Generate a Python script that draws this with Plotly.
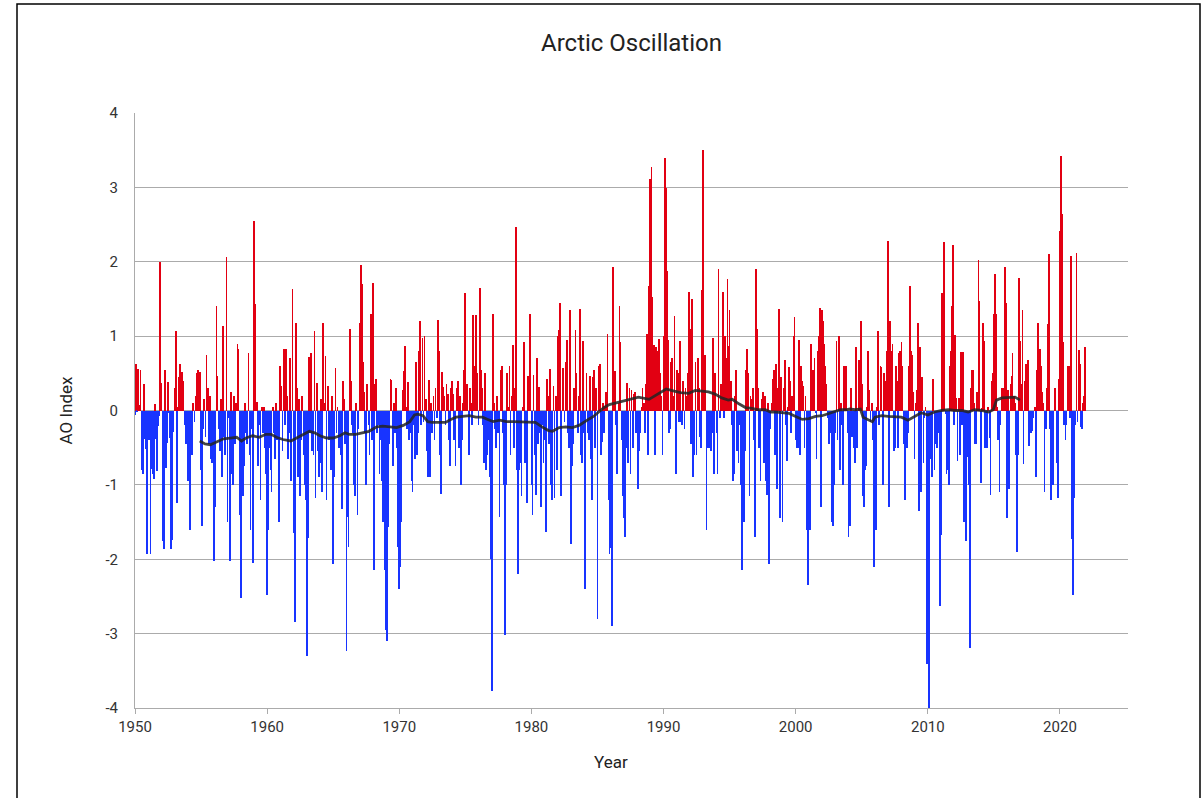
import plotly.graph_objects as go

# Monthly AO index values (Jan..Dec), one list per decade
ao_1950s = [
    -0.06, 0.63, -0.01, 0.56, 0.07, 0.54, -0.80, -0.85, 0.36, -0.38, -0.52, -1.93,
    -0.09, -0.40, -1.93, -0.78, -0.86, -0.92, 0.09, -0.38, -0.82, -0.21, -0.07, 1.99,
    0.37, -1.75, -1.86, 0.54, -0.77, -0.44, 0.38, -0.03, -0.37, -1.86, -1.74, -0.29,
    0.30, 1.07, -1.25, 0.05, 0.45, 0.62, 0.35, 0.52, 0.40, -0.20, -0.45, -0.30,
    -0.95, -0.20, -1.60, -0.40, -0.60, 0.10, -0.15, 0.20, 0.50, 0.55, 0.35, 0.52,
    -0.80, -1.55, -0.25, 0.15, -0.35, 0.75, 0.30, -0.45, 0.20, -0.65, -0.70, -0.50,
    -2.03, -1.30, 1.40, 0.47, -0.25, -0.55, 0.15, -0.90, 1.13, -0.35, -0.60, 2.06,
    -1.50, -0.10, -2.02, 0.25, -0.85, -1.00, 0.20, -0.45, 0.10, 0.90, 0.83, -1.40,
    -2.52, -0.40, -1.15, -0.75, 0.10, -0.30, -0.45, 0.77, -0.60, -1.60, -0.25, -2.05,
    2.55, 1.43, 0.10, 0.12, -0.75, -0.20, -1.20, 0.05, -0.30, 0.05, -0.50, -0.85,
]
ao_1960s = [
    -2.48, -1.60, -0.50, -0.80, -1.10, 0.05, -0.30, -0.65, 0.10, -0.40, -0.20, -1.50,
    0.60, 0.33, -0.55, 0.83, -0.20, 0.83, 0.20, -0.65, -0.30, 0.70, -0.95, 1.64,
    -1.65, -2.85, 1.17, 0.30, -0.90, 0.15, -1.15, -0.40, 0.20, -0.60, -1.00, -1.20,
    -3.30, -1.72, 0.72, -0.30, 0.77, -0.55, -0.60, 1.07, -1.17, 0.37, -0.55, -0.90,
    -0.70, 0.15, -1.10, 1.17, 0.10, 0.73, -1.20, 0.33, -0.40, -0.10, -0.80, 0.20,
    -2.07, -0.90, 0.57, -0.30, 0.05, -0.50, -0.40, -0.60, -1.33, 0.40, 0.15, -0.45,
    -3.23, -1.43, -1.83, 1.10, 0.40, -0.20, -0.30, -1.00, -1.15, 0.10, -1.40, -0.25,
    1.17, 1.96, 1.70, 0.65, 0.25, -0.30, -1.00, 0.35, -0.20, -0.60, 1.30, -0.40,
    1.72, -2.15, 0.35, 0.42, -0.30, -0.20, -0.85, -0.40, -0.95, -1.50, -0.60, -2.15,
    -2.95, -3.10, -1.57, -0.45, 0.43, 0.41, -0.75, 0.10, -0.30, 0.30, -0.50, -1.83,
]
ao_1970s = [
    -2.40, -2.10, -1.50, 0.28, 0.53, 0.87, 0.05, -0.25, 0.38, -0.40, -0.30, -0.95,
    -1.10, -0.20, -0.65, 0.65, -0.60, -0.30, 0.80, 1.20, -0.20, 0.98, -0.15, 1.00,
    0.15, -0.55, -0.90, 0.41, -0.90, 0.10, -0.30, 0.20, -0.40, 0.30, -0.10, 1.22,
    0.80, -0.60, -1.12, 0.52, 0.32, 0.20, -0.20, 0.35, 0.22, -0.40, -0.75, 0.30,
    0.40, 0.22, -0.40, -0.75, 0.30, 0.40, -0.50, 0.20, -1.00, -0.40, 0.10, 0.55,
    1.58, 0.35, 0.35, -0.60, 0.30, 0.10, -0.20, 1.28, 0.60, 0.20, 1.28, 0.50,
    -0.20, 1.65, 0.55, 0.30, -0.20, -0.70, 0.50, -0.80, -0.60, -0.40, -0.90, -2.00,
    -3.77, 1.30, 0.10, -0.25, -0.50, 0.20, -0.30, -1.43, 0.55, 0.60, -0.30, -1.00,
    -3.02, -1.00, 0.50, 0.05, 0.60, -0.60, 0.20, 0.88, -0.50, 0.30, 2.47, -0.80,
    -2.20, -0.80, -0.70, -1.15, 0.05, 0.92, -0.70, -0.30, -1.25, 0.47, 0.30, 1.30,
]
ao_1980s = [
    -1.00, -1.40, 0.48, -0.60, -1.13, 0.70, -0.45, 0.32, -0.30, -1.30, -0.20, -0.70,
    -0.40, -1.63, 0.43, 0.20, -0.45, 0.56, -1.00, -1.20, 0.33, -1.17, 0.20, -0.80,
    1.00, 1.08, 1.45, -1.15, 0.00, 0.57, -0.15, 0.65, 0.95, -0.30, -0.50, 1.35,
    -1.80, -0.75, -0.45, 0.30, 1.08, 0.50, -0.30, 0.20, 1.36, -0.60, -0.70, 0.93,
    -0.30, -2.40, 0.50, -0.30, -0.40, 0.47, -0.65, -1.20, 0.45, 0.55, -0.50, 0.30,
    -2.80, 0.60, 0.63, -0.60, -0.43, 0.10, -0.30, 0.06, 0.25, 1.03, -1.20, -1.93,
    -1.85, -2.90, 1.93, 0.50, 0.53, -0.20, -0.85, 0.10, 1.40, 0.92, -0.40, -1.15,
    -1.45, -1.70, -0.50, 0.37, -0.70, 0.30, -0.85, 0.28, -0.50, 0.22, 0.25, -0.30,
    -0.20, -1.05, -0.55, -0.30, 0.05, 0.30, 0.10, -0.30, 0.35, 1.03, -0.60, 1.68,
    3.11, 3.28, 1.53, 0.88, -0.60, 0.85, 0.40, 0.80, 0.96, 0.50, 0.20, -0.60,
]
ao_1990s = [
    1.00, 3.40, 2.99, 1.88, 0.95, -0.30, -0.25, 0.65, 0.70, 0.20, 1.27, -0.85,
    0.55, 0.50, -0.15, 0.93, -0.15, -0.20, 0.40, -0.25, 0.30, 0.20, 0.50, 1.60,
    1.10, -0.45, 1.50, -0.90, -0.60, 0.65, -0.60, 0.70, 0.30, -0.35, -0.50, 1.62,
    3.50, 0.75, 0.75, -1.60, -0.50, -0.50, -0.35, -0.55, -0.30, 0.98, -0.85, 0.50,
    -0.30, -0.85, 1.90, -0.10, 0.35, 0.20, 1.60, -0.10, 1.00, 0.70, 1.77, 0.87,
    1.35, 0.40, -0.20, -0.95, -0.85, 0.20, 0.55, -0.55, -0.70, -0.20, -1.00, -2.15,
    -1.05, -1.50, -0.55, 0.55, 0.83, 0.50, -1.15, 0.20, 0.15, 0.30, -0.40, -1.70,
    1.90, 1.10, 0.30, -0.50, -0.95, 0.15, 0.25, -0.70, 0.20, -0.95, -1.13, 0.10,
    -2.07, -0.25, 0.10, 0.43, 0.55, -0.60, 0.63, -1.05, 0.30, 1.36, -1.45, 0.45,
    -1.50, 0.30, 0.68, -0.20, -0.68, 0.05, 0.58, 0.40, -0.30, 0.20, 1.00, 1.26,
]
ao_2000s = [
    -0.40, -0.50, -0.50, 0.95, -0.60, 0.60, 0.40, 0.33, -0.50, 0.20, -1.60, -2.35,
    -0.95, -1.60, 0.90, 0.40, 0.55, 0.70, -0.03, -0.65, 0.80, 1.00, 1.38, -1.30,
    1.35, 1.20, 0.90, 0.60, 0.35, -0.10, -0.45, -0.20, -0.30, -1.50, -1.55, -1.00,
    -0.30, 0.93, -0.40, 1.00, -0.80, 0.10, -0.20, -1.00, 0.60, 0.10, 0.60, -0.30,
    -1.70, -1.55, 0.30, -0.35, -0.25, -0.50, -0.70, 0.85, -0.50, 0.68, 0.68, 1.20,
    0.35, -1.15, -1.30, -0.80, -0.75, 0.05, 0.80, 0.28, -0.15, 0.10, -0.40, -2.10,
    -0.10, -1.60, 0.05, 1.07, -0.20, 0.60, 0.58, -1.00, 0.50, 0.20, 0.40, 0.80,
    2.28, -1.30, 1.20, 0.80, 0.90, -0.55, -0.50, 0.60, 0.40, -0.50, 0.77, 0.80,
    0.92, 0.60, -0.45, -1.20, -0.50, -0.50, -0.30, 0.60, 1.68, 0.80, 0.75, 0.25,
    -0.65, 0.10, 0.27, 1.18, -1.35, 0.85, -1.10, 0.45, -0.70, -0.10, 0.05, -3.41,
]
ao_2010s = [
    -2.59, -4.27, -0.45, -0.65, -0.90, 0.43, -0.80, -0.45, -0.50, -0.20, -0.30, -2.63,
    -1.68, 1.58, 1.42, 2.27, -0.05, -0.85, -0.80, -1.00, 0.60, 0.80, 1.40, 2.22,
    -0.20, 1.02, 0.17, -0.68, 0.17, -0.60, 0.78, -0.20, 0.78, -1.50, -0.20, -1.75,
    -0.62, -1.00, -3.19, 0.30, 0.55, 0.55, 0.10, -0.45, -0.45, 0.25, 2.02, 1.47,
    -0.97, 0.04, 1.17, 0.94, -0.50, -0.30, -0.50, 0.05, -0.37, -1.13, 0.40, 0.50,
    1.30, 1.83, 1.30, 0.05, -0.40, -1.10, -0.20, 0.30, 0.30, 0.20, 1.93, 1.44,
    -1.45, 0.28, -1.05, 0.35, 0.47, 0.77, 0.20, 0.10, -0.60, -1.90, -0.60, 1.78,
    0.94, 0.35, 1.35, -0.72, 0.40, 0.63, 0.15, 0.68, -0.48, -0.10, -0.30, -0.27,
    -0.10, 0.05, -0.90, 0.55, 1.17, 0.60, 0.83, 0.60, 0.25, 0.10, -1.10, -0.25,
    0.30, 1.16, 2.10, -0.25, -1.20, -0.60, -1.00, 0.30, 0.30, -0.70, -1.18, 0.43,
]
ao_2020s = [
    2.42, 3.42, 2.64, 0.92, -0.20, -0.40, -0.20, 0.60, 0.60, -0.10, 2.08, -1.73,
    -2.48, -1.18, -0.20, 2.12, -0.15, 0.82, 0.62, -0.22, -0.25, 0.10, 0.20, 0.85,
]
first_year = 1950

# 10-year moving average line (decimal year, value)
ma_year = [1954.9, 1955.3, 1955.7, 1956.2, 1956.7, 1957.2, 1957.7, 1958.06, 1958.4, 1958.9,
           1959.4, 1959.9, 1960.3, 1960.7, 1961.2, 1961.8, 1962.2, 1962.7, 1963.2, 1963.6,
           1964.0, 1964.5, 1965.0, 1965.5, 1965.9, 1966.2, 1966.7, 1967.2, 1967.7, 1968.3,
           1968.75, 1969.3, 1969.8, 1970.3, 1970.8, 1971.15, 1971.4, 1971.8, 1972.15, 1972.5,
           1973.0, 1973.5, 1973.9, 1974.3, 1974.8, 1975.3, 1975.8, 1976.3, 1976.7, 1977.1,
           1977.6, 1978.1, 1978.6, 1979.1, 1979.6, 1980.0, 1980.3, 1980.8, 1981.3, 1981.6,
           1982.1, 1982.6, 1983.1, 1983.6, 1984.0, 1984.4, 1984.7, 1985.1, 1985.5, 1985.9,
           1986.7, 1987.4, 1988.1, 1988.9, 1989.6, 1990.2, 1990.8, 1991.3, 1991.9, 1992.4,
           1992.9, 1993.4, 1993.9, 1994.4, 1994.9, 1995.2, 1995.7, 1996.2, 1996.7, 1997.2,
           1997.7, 1998.1, 1998.5, 1999.0, 1999.5, 2000.0, 2000.5, 2001.0, 2001.5, 2002.0,
           2002.5, 2003.0, 2003.4, 2003.8, 2004.1, 2004.5, 2004.9, 2005.1, 2005.4, 2005.8,
           2006.0, 2006.5, 2007.0, 2007.5, 2008.0, 2008.5, 2009.0, 2009.5, 2010.0, 2010.5,
           2011.05, 2011.55, 2012.05, 2012.55, 2013.05, 2013.55, 2014.05, 2014.6, 2014.95, 2015.2,
           2015.6, 2016.1, 2016.6, 2016.97]
ma_value = [-0.41, -0.45, -0.46, -0.42, -0.38, -0.37, -0.36, -0.41, -0.37, -0.34,
            -0.36, -0.32, -0.32, -0.36, -0.39, -0.41, -0.37, -0.33, -0.28, -0.30,
            -0.34, -0.37, -0.37, -0.34, -0.30, -0.32, -0.32, -0.30, -0.28, -0.22,
            -0.21, -0.22, -0.23, -0.20, -0.15, -0.06, -0.05, -0.07, -0.15, -0.16,
            -0.16, -0.16, -0.12, -0.09, -0.08, -0.07, -0.09, -0.09, -0.12, -0.15,
            -0.13, -0.15, -0.15, -0.15, -0.15, -0.15, -0.16, -0.22, -0.27, -0.28,
            -0.23, -0.22, -0.23, -0.20, -0.15, -0.11, -0.08, -0.02, 0.04, 0.08,
            0.12, 0.15, 0.18, 0.15, 0.22, 0.29, 0.26, 0.24, 0.23, 0.27,
            0.26, 0.25, 0.22, 0.17, 0.14, 0.15, 0.09, 0.04, 0.03, 0.01,
            0.01, -0.02, -0.02, -0.03, -0.04, -0.08, -0.12, -0.11, -0.08, -0.07,
            -0.04, -0.02, 0.01, 0.01, 0.02, 0.01, 0.02, -0.09, -0.12, -0.15,
            -0.09, -0.07, -0.08, -0.08, -0.09, -0.13, -0.08, -0.03, -0.06, -0.02,
            0.00, 0.01, 0.00, 0.00, -0.02, 0.01, 0.00, -0.02, 0.01, 0.14,
            0.17, 0.17, 0.18, 0.14]

x_ticks = [1950, 1960, 1970, 1980, 1990, 2000, 2010, 2020]
y_ticks = [-4, -3, -2, -1, 0, 1, 2, 3, 4]

ao = ao_1950s + ao_1960s + ao_1970s + ao_1980s + ao_1990s + ao_2000s + ao_2010s + ao_2020s
months = [first_year + i / 12.0 for i in range(len(ao))]

RED = "rgb(226,0,18)"
BLUE = "rgb(24,52,255)"
colors = [RED if v >= 0 else BLUE for v in ao]

fig = go.Figure()
fig.add_trace(go.Bar(
    x=months, y=ao, marker=dict(color=colors, line=dict(width=0)),
    width=[0.058] * len(ao), showlegend=False, hoverinfo="x+y",
))
fig.add_trace(go.Scatter(
    x=ma_year, y=ma_value, mode="lines",
    line=dict(color="rgba(35,35,35,0.85)", width=2.8),
    showlegend=False, hoverinfo="skip",
))

GRID = "#ababab"
FONT = "Roboto, Arial, sans-serif"

fig.update_layout(
    width=1204, height=798,
    margin=dict(l=135, r=76, t=113, b=90),
    paper_bgcolor="white", plot_bgcolor="white",
    font=dict(family=FONT, size=15, color="#333333"),
    bargap=0,
    xaxis=dict(
        range=[1950, 2025.15], tickmode="array", tickvals=x_ticks,
        ticktext=[str(t) for t in x_ticks],
        showgrid=False, zeroline=False,
        showline=True, linecolor=GRID, linewidth=1,
        ticks="outside", ticklen=5, tickcolor=GRID,
        tickfont=dict(size=15, color="#333333"),
    ),
    yaxis=dict(
        range=[-4, 4], tickmode="array", tickvals=y_ticks,
        ticktext=[str(t) for t in y_ticks],
        showgrid=True, gridcolor=GRID, gridwidth=1,
        zeroline=False, showline=True, linecolor=GRID, linewidth=1,
        ticks="", ticklabelstandoff=13,
        tickfont=dict(size=15, color="#333333"),
    ),
    annotations=[
        dict(text="Arctic Oscillation", xref="paper", yref="paper",
             x=0.5, y=(708 - 43) / 595, xanchor="center", yanchor="middle",
             showarrow=False, font=dict(family=FONT, size=24, color="#222222")),
        dict(text="AO Index", xref="paper", yref="paper",
             x=(65 - 135) / 993, y=0.5, xanchor="center", yanchor="middle",
             textangle=-90, showarrow=False,
             font=dict(family=FONT, size=17, color="#222222")),
        dict(text="Year", xref="paper", yref="paper",
             x=(611 - 135) / 993, y=(708 - 762) / 595, xanchor="center", yanchor="middle",
             showarrow=False, font=dict(family=FONT, size=17, color="#222222")),
    ],
    shapes=[
        dict(type="rect", xref="paper", yref="paper",
             x0=(17 - 135) / 993, x1=(1200 - 135) / 993,
             y0=(708 - 805) / 595, y1=(708 - 4) / 595,
             line=dict(color="black", width=1.5), fillcolor="rgba(0,0,0,0)", layer="above"),
    ],
)

fig.write_html("out.html")
